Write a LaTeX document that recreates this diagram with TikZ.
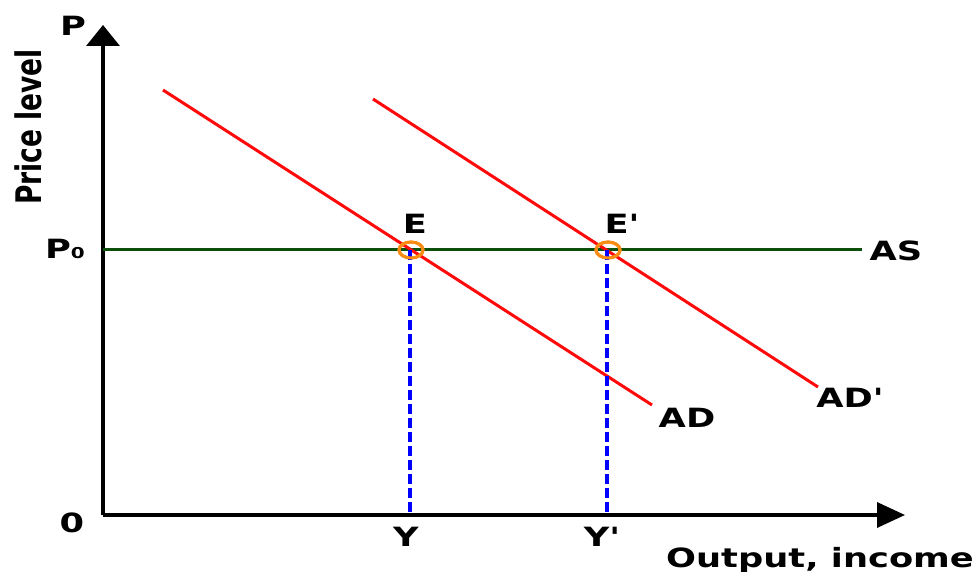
\documentclass[tikz,border=0pt]{standalone}
\usepackage{fontspec}
\setmainfont{DejaVu Sans}
\usetikzlibrary{arrows.meta,shapes.geometric}
\newcommand\hs[1]{\scalebox{1.33}[1]{#1}}
\newcommand\ap{\textquotesingle}
\definecolor{adred}{RGB}{255,10,10}
\definecolor{asgreen}{RGB}{10,80,10}
\definecolor{dashblue}{RGB}{0,0,255}
\definecolor{eqorange}{RGB}{250,140,20}
\tikzset{
  lab/.style={font=\fontsize{26.5}{30}\selectfont\bfseries, inner sep=0pt, anchor=base},
  axis/.style={line width=3.5pt, black},
  adline/.style={line width=3pt, adred},
  asline/.style={line width=3pt, asgreen},
  guide/.style={line width=3.5pt, dashblue, dash pattern=on 9.5pt off 4.5pt},
  eqmark/.style={draw=eqorange, line width=3pt, ellipse, minimum width=24pt, minimum height=16pt, inner sep=0pt}
}
\begin{document}
\begin{tikzpicture}[x=1pt,y=-1pt]
\useasboundingbox (0,0) rectangle (979,572);
% axes
\coordinate (O) at (103,515);
\coordinate (Ptop) at (103,25);
\coordinate (Xend) at (905,515);
\draw[axis, -{Triangle[length=21pt,width=33pt]}] (O) -- (Ptop);
\draw[axis, -{Triangle[length=28pt,width=25pt]}] (O) -- (Xend);
% AS line
\coordinate (ASs) at (103,249);
\coordinate (ASe) at (862,249);
\draw[asline] (ASs) -- (ASe);
% AD lines
\coordinate (AD1s) at (163,90);
\coordinate (AD1e) at (652,405);
\coordinate (AD2s) at (373,99);
\coordinate (AD2e) at (818,387);
\draw[adline] (AD1s) -- (AD1e);
\draw[adline] (AD2s) -- (AD2e);
% equilibria
\node[eqmark] (E) at (411,250) {};
\node[eqmark] (E2) at (608,250) {};
\coordinate (Yb) at (410,515);
\coordinate (Y2b) at (607,515);
\coordinate (Yt) at (410,250);
\coordinate (Y2t) at (607,250);
\draw[guide] (Yt) -- (Yb);
\draw[guide] (Y2t) -- (Y2b);
\node[eqmark] (Ea) at (411,250) {};
\node[eqmark] (E2a) at (608,250) {};
% labels
\node[lab] (lP) at (73,36) {\hs{P}};
\node[lab, anchor=center, rotate=90] (lPL) at (28,127) {\scalebox{1}[1.33]{Price level}};
\node[lab] (lP0) at (65,258) {\hs{P{\fontsize{15}{15}\selectfont 0}}};
\node[lab] (l0) at (72,532) {\hs{0}};
\node[lab] (lY) at (406,546) {\hs{Y}};
\node[lab] (lY2) at (602,546) {\hs{Y\ap}};
\node[lab] (lAS) at (896,260) {\hs{AS}};
\node[lab] (lAD) at (687,427) {\hs{AD}};
\node[lab] (lAD2) at (850,407) {\hs{AD\ap}};
\node[lab] (lE) at (415,233) {\hs{E}};
\node[lab] (lE2) at (622,233) {\hs{E\ap}};
\node[lab] (lOut) at (820,567) {\hs{Output, income}};
\end{tikzpicture}
\end{document}
